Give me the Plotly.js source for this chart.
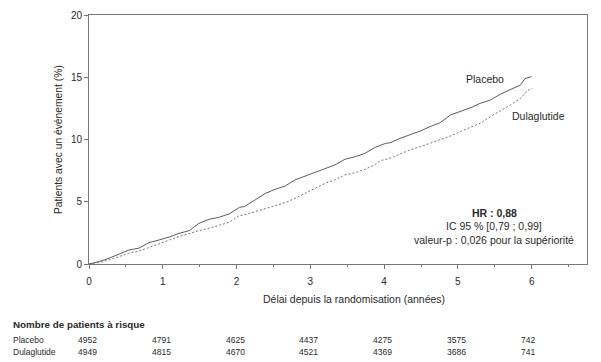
<!DOCTYPE html>
<html>
<head>
<meta charset="utf-8">
<script src="https://cdn.plot.ly/plotly-3.0.1.min.js"></script>
<style>html,body{margin:0;padding:0;background:#fff;}#chart{width:601px;height:362px;}</style>
</head>
<body>
<div id="chart"></div>
<script>
// Placebo cumulative incidence (%)
const placeboT = [0, 0.136, 0.27, 0.41, 0.54, 0.68, 0.81, 0.95, 1.09, 1.22, 1.36, 1.49, 1.63, 1.76, 1.90, 2.04, 2.11, 2.25, 2.39, 2.52, 2.66, 2.79, 2.93, 3.06, 3.20, 3.33, 3.47, 3.61, 3.74, 3.88, 4.02, 4.08, 4.22, 4.35, 4.49, 4.62, 4.76, 4.90, 5.03, 5.17, 5.30, 5.44, 5.58, 5.71, 5.85, 5.91, 5.98, 6.0];
const placeboY = [0, 0.19, 0.46, 0.80, 1.12, 1.28, 1.71, 1.93, 2.17, 2.46, 2.68, 3.27, 3.59, 3.75, 4.02, 4.55, 4.62, 5.14, 5.67, 5.99, 6.27, 6.75, 7.07, 7.34, 7.68, 7.95, 8.41, 8.62, 8.89, 9.37, 9.69, 9.74, 10.10, 10.36, 10.68, 11.03, 11.35, 11.97, 12.24, 12.55, 12.90, 13.17, 13.65, 13.98, 14.38, 14.90, 15.00, 15.05];
// Dulaglutide cumulative incidence (%)
const dulaT = [0, 0.136, 0.27, 0.41, 0.54, 0.68, 0.81, 0.95, 1.09, 1.22, 1.36, 1.49, 1.63, 1.76, 1.90, 2.04, 2.11, 2.25, 2.39, 2.52, 2.66, 2.79, 2.93, 3.06, 3.20, 3.33, 3.47, 3.61, 3.74, 3.88, 3.95, 4.08, 4.22, 4.35, 4.49, 4.62, 4.76, 4.90, 5.03, 5.17, 5.30, 5.44, 5.58, 5.71, 5.85, 5.94, 6.01];
const dulaY = [0, 0.12, 0.33, 0.59, 0.86, 1.04, 1.34, 1.61, 1.93, 2.20, 2.46, 2.68, 2.87, 3.13, 3.35, 3.90, 3.95, 4.20, 4.47, 4.71, 4.93, 5.27, 5.67, 6.08, 6.48, 6.75, 7.15, 7.34, 7.60, 8.00, 8.30, 8.50, 8.83, 9.16, 9.42, 9.69, 9.96, 10.28, 10.63, 10.98, 11.30, 11.83, 12.30, 12.77, 13.30, 13.92, 14.10];

// Number at risk
const riskYears = [0, 1, 2, 3, 4, 5, 6];
const riskPlacebo = [4952, 4791, 4625, 4437, 4275, 3575, 742];
const riskDula = [4949, 4815, 4670, 4521, 4369, 3686, 741];
const groupNames = ["Placebo", "Dulaglutide"];

const fontFam = "Liberation Sans, Arial, sans-serif";
const txtColor = "#2a2a2a";

const traces = [
  {x: placeboT, y: placeboY, mode: "lines", name: groupNames[0],
   line: {color: "#4a4a4a", width: 0.9, dash: "solid"}, hoverinfo: "skip"},
  {x: dulaT, y: dulaY, mode: "lines", name: groupNames[1],
   line: {color: "#666", width: 0.9, dash: "2px,2px"}, hoverinfo: "skip"}
];

// plot area geometry (px) used to place paper annotations
const L = 89, T = 15, W = 498, H = 249;
function px2paperY(py) { return (T + H - py) / H; }
function px2paperX(px) { return (px - L) / W; }

function note(text, px, py, size, opts) {
  return Object.assign({text: text, x: px2paperX(px), y: px2paperY(py), xref: "paper", yref: "paper",
    showarrow: false, xanchor: "center", yanchor: "middle",
    font: {size: size, color: txtColor, family: fontFam}}, opts || {});
}

const ann = [];
ann.push(note(groupNames[0], 485, 79, 10.5));
ann.push(note(groupNames[1], 538, 116, 10.5));
ann.push(note("<b>HR : 0,88</b>", 494, 213, 10.5));
ann.push(note("IC 95 % [0,79 ; 0,99]", 494, 226, 10.5));
ann.push(note("valeur-p : 0,026 pour la supériorité", 494, 240, 10.5));
ann.push(note("Délai depuis la randomisation (années)", 354, 299, 10.5));
ann.push(note("Patients avec un événement (%)", 58, 140, 10.3, {textangle: -90}));
ann.push(note("<b>Nombre de patients à risque</b>", 11, 324, 9.8, {xanchor: "left"}));
const rowY = [340, 352];
const rowVals = [riskPlacebo, riskDula];
for (let r = 0; r < 2; r++) {
  ann.push(note(groupNames[r], 11, rowY[r], 8.5, {xanchor: "left"}));
  for (let i = 0; i < riskYears.length; i++) {
    ann.push({text: String(rowVals[r][i]), x: riskYears[i], xref: "x", y: px2paperY(rowY[r]), yref: "paper",
      xshift: -13, showarrow: false, xanchor: "left", yanchor: "middle", font: {size: 8.5, color: txtColor, family: fontFam}});
  }
}

const layout = {
  width: 601, height: 362,
  margin: {l: L, r: 601 - L - W, t: T, b: 362 - T - H, pad: 0},
  paper_bgcolor: "#fff", plot_bgcolor: "#fff",
  showlegend: false,
  font: {family: fontFam, size: 10, color: txtColor},
  xaxis: {range: [0, 6.75], tickvals: riskYears, ticks: "outside", ticklen: 4, tickcolor: "#777",
    showline: true, linecolor: "#777", linewidth: 1, mirror: true, showgrid: false, zeroline: false,
    tickfont: {size: 10, color: txtColor}, ticklabelstandoff: 4,
    minor: {dtick: 0.5, tick0: 0, ticks: "outside", ticklen: 2, tickcolor: "#777", showgrid: false}},
  yaxis: {range: [0, 20], tickvals: [0, 5, 10, 15, 20], ticks: "outside", ticklen: 4, tickcolor: "#777",
    showline: true, linecolor: "#777", linewidth: 1, mirror: true, showgrid: false, zeroline: false,
    tickfont: {size: 10, color: txtColor}},
  annotations: ann
};

Plotly.newPlot("chart", traces, layout, {staticPlot: true, displayModeBar: false});
</script>
</body>
</html>
